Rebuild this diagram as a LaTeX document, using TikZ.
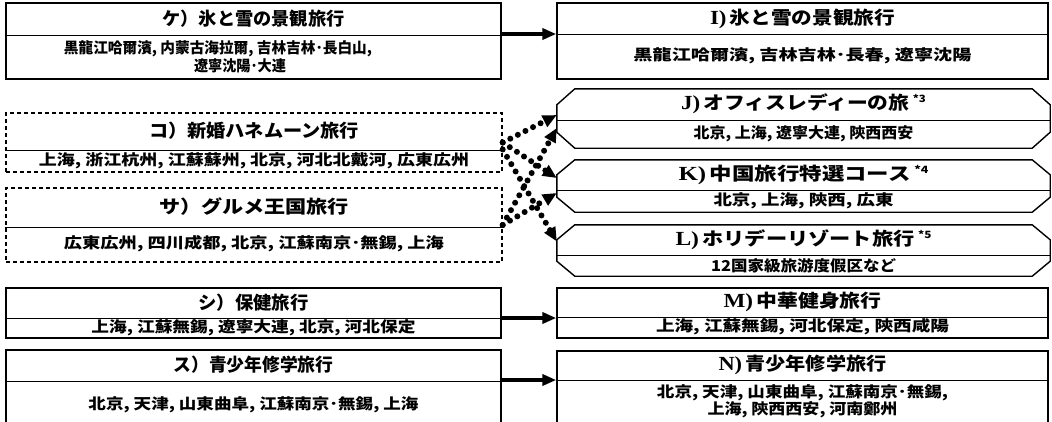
\documentclass[tikz,border=0pt]{standalone}
\usepackage{fontspec}
\usepackage{graphicx}
\setmainfont{Noto Sans CJK JP}
\newfontfamily\lat{Liberation Serif}
\usetikzlibrary{arrows.meta,calc}
\newcommand\sw[2]{\resizebox{#1}{\height}{#2}}
\newcommand\ttl{\fontsize{18}{20}\selectfont\bfseries}
\newcommand\bdy{\fontsize{15}{17}\selectfont\bfseries}
\newcommand\supn[1]{\raisebox{7pt}{\fontsize{10}{10}\selectfont\bfseries *#1}}
\newcommand\ltr[1]{{\lat\fontsize{20}{20}\selectfont\bfseries #1)}\,}
\newcommand\md{･}
\begin{document}
\begin{tikzpicture}[x=1pt,y=-1pt,
  box/.style={draw,line width=1.4pt,inner sep=0pt},
  dbox/.style={box,dash pattern=on 4pt off 3pt},
  core/.style={inner sep=0pt},
  hexl/.style={line width=1.4pt,line join=miter},
  txt/.style={inner sep=0pt,anchor=center},
  div/.style={line width=1pt},
  sarrow/.style={line width=3.5pt,-{Triangle[length=14pt,width=11pt]}},
  darrow/.style={line width=6pt,line cap=round,dash pattern=on 0pt off 8.5pt,-{Triangle[length=14pt,width=12pt]}}]
\useasboundingbox (0,0) rectangle (1052,421);
\clip (0,0) rectangle (1052,421);
% left column
\node[box,minimum width=495pt,minimum height=76pt] (ke) at (253.5,41) {};
\draw[div] (ke.west |- 0,35) -- (ke.east |- 0,35);
\node[txt] (ket) at (253.5,19) {\sw{182pt}{\ttl ケ）氷と雪の景観旅行}};
\node[txt] (keb1) at (218,49) {\sw{308pt}{\bdy 黒龍江哈爾濱, 内蒙古海拉爾, 吉林吉林\md 長白山,}};
\node[txt] (keb2) at (240,66) {\sw{92pt}{\bdy 遼寧沈陽\md 大連}};

\node[dbox,minimum width=496pt,minimum height=59pt] (ko) at (254,142.5) {};
\draw[div] (ko.west |- 0,150) -- (ko.east |- 0,150);
\node[txt] (kot) at (254,131) {\sw{210pt}{\ttl コ）新婚ハネムーン旅行}};
\node[txt] (kob) at (254,161) {\sw{430pt}{\bdy 上海, 浙江杭州, 江蘇蘇州, 北京, 河北北戴河, 広東広州}};

\node[dbox,minimum width=496pt,minimum height=74pt] (sa) at (254,225) {};
\draw[div] (sa.west |- 0,227) -- (sa.east |- 0,227);
\node[txt] (sat) at (254,207) {\sw{190pt}{\ttl サ）グルメ王国旅行}};
\node[txt] (sab) at (254,244) {\sw{380pt}{\bdy 広東広州, 四川成都, 北京, 江蘇南京\md 無錫, 上海}};

\node[box,minimum width=495pt,minimum height=50pt] (shi) at (253.5,313) {};
\draw[div] (shi.west |- 0,318) -- (shi.east |- 0,318);
\node[txt] (shit) at (253.5,303) {\sw{110pt}{\ttl シ）保健旅行}};
\node[txt] (shib) at (253.5,328) {\sw{324pt}{\bdy 上海, 江蘇無錫, 遼寧大連, 北京, 河北保定}};

\node[box,minimum width=495pt,minimum height=90pt] (su) at (253.5,395) {};
\draw[div] (su.west |- 0,381) -- (su.east |- 0,381);
\node[txt] (sut) at (253.5,365) {\sw{160pt}{\ttl ス）青少年修学旅行}};
\node[txt] (sub) at (253.5,405) {\sw{330pt}{\bdy 北京, 天津, 山東曲阜, 江蘇南京\md 無錫, 上海}};

% right column
\node[box,minimum width=491pt,minimum height=76pt] (I) at (802.5,41) {};
\draw[div] (I.west |- 0,34) -- (I.east |- 0,34);
\node[txt] (It) at (802.5,19) {\sw{185pt}{\ttl\ltr{I}氷と雪の景観旅行}};
\node[txt] (Ib) at (802.5,56) {\sw{338pt}{\bdy 黒龍江哈爾濱, 吉林吉林\md 長春, 遼寧沈陽}};

\node[core,minimum width=457pt,minimum height=59pt] (J) at (803.5,118.5) {};
\draw[hexl] (J.north west) -- (J.north east) -- ($(J.north east)+(18,16)$) -- ($(J.south east)+(18,-16)$) -- (J.south east) -- (J.south west) -- ($(J.south west)+(-18,-16)$) -- ($(J.north west)+(-18,16)$) -- cycle;
\coordinate (Jtip) at ($(J.west)+(-18,0)$);
\draw[div] ($(J.west)+(-18,1.5)$) -- ($(J.east)+(18,1.5)$);
\node[txt] (Jt) at (803.5,104) {\sw{245pt}{\ttl\ltr{J}オフィスレディーの旅\,\supn{3}}};
\node[txt] (Jb) at (803.5,134) {\sw{220pt}{\bdy 北京, 上海, 遼寧大連, 陝西西安}};

\node[core,minimum width=457pt,minimum height=52pt] (K) at (803.5,186) {};
\draw[hexl] (K.north west) -- (K.north east) -- ($(K.north east)+(18,15)$) -- ($(K.south east)+(18,-15)$) -- (K.south east) -- (K.south west) -- ($(K.south west)+(-18,-15)$) -- ($(K.north west)+(-18,15)$) -- cycle;
\coordinate (Ktip) at ($(K.west)+(-18,0)$);
\draw[div] ($(K.west)+(-18,4)$) -- ($(K.east)+(18,4)$);
\node[txt] (Kt) at (803.5,175) {\sw{250pt}{\ttl\ltr{K}中国旅行特選コース\,\supn{4}}};
\node[txt] (Kb) at (803.5,201) {\sw{180pt}{\bdy 北京, 上海, 陝西, 広東}};

\node[core,minimum width=457pt,minimum height=51pt] (L) at (803.5,250.5) {};
\draw[hexl] (L.north west) -- (L.north east) -- ($(L.north east)+(18,15)$) -- ($(L.south east)+(18,-15)$) -- (L.south east) -- (L.south west) -- ($(L.south west)+(-18,-15)$) -- ($(L.north west)+(-18,15)$) -- cycle;
\coordinate (Ltip) at ($(L.west)+(-18,0)$);
\draw[div] ($(L.west)+(-18,4.5)$) -- ($(L.east)+(18,4.5)$);
\node[txt] (Lt) at (803.5,240) {\sw{256pt}{\ttl\ltr{L}ホリデーリゾート旅行\,\supn{5}}};
\node[txt] (Lb) at (803.5,266) {\sw{185pt}{\bdy 12国家級旅游度假区など}};

\node[box,minimum width=491pt,minimum height=50pt] (M) at (802.5,313) {};
\draw[div] (M.west |- 0,317) -- (M.east |- 0,317);
\node[txt] (Mt) at (802.5,302) {\sw{158pt}{\ttl\ltr{M}中華健身旅行}};
\node[txt] (Mb) at (802.5,327) {\sw{293pt}{\bdy 上海, 江蘇無錫, 河北保定, 陝西咸陽}};

\node[box,minimum width=491pt,minimum height=89pt] (N) at (802.5,395.5) {};
\draw[div] (N.west |- 0,380) -- (N.east |- 0,380);
\node[txt] (Nt) at (802.5,365) {\sw{168pt}{\ttl\ltr{N}青少年修学旅行}};
\node[txt] (Nb1) at (802.5,393) {\sw{291pt}{\bdy 北京, 天津, 山東曲阜, 江蘇南京\md 無錫,}};
\node[txt] (Nb2) at (802.5,410) {\sw{190pt}{\bdy 上海, 陝西西安, 河南鄭州}};

% connectors
\draw[sarrow] (ke.east |- 0,34) -- (I.west |- 0,34);
\draw[sarrow] (shi.east |- 0,318) -- (M.west |- 0,318);
\draw[sarrow] (su.east |- 0,380) -- (N.west |- 0,380);
\draw[darrow] (ko.east) -- ($(Jtip)+(0,-3.5)$);
\draw[darrow] (ko.east) -- ($(Ktip)+(0,-8)$);
\draw[darrow] ($(ko.east)+(0,7)$) -- ($(Ltip)+(0,-9)$);
\draw[darrow] (sa.east) -- ($(Jtip)+(0,9.5)$);
\draw[darrow] (sa.east) -- ($(Ktip)+(0,7)$);
\end{tikzpicture}
\end{document}
